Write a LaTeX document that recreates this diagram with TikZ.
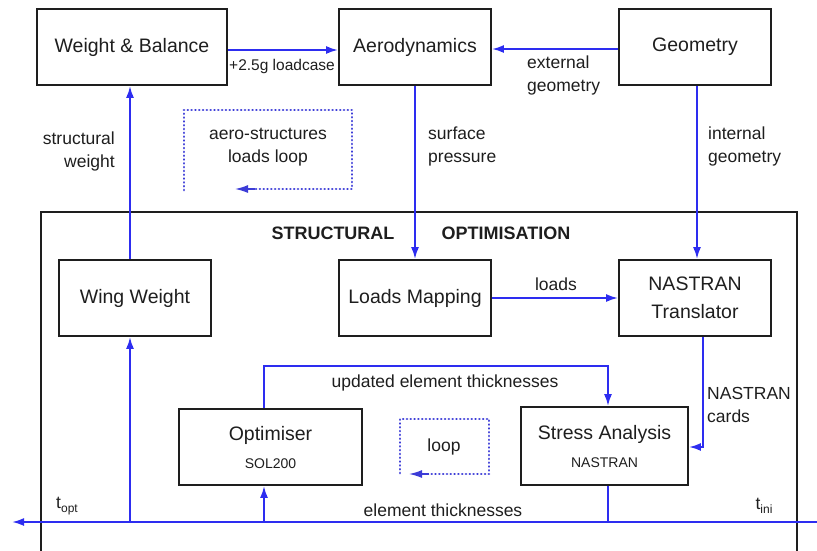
\documentclass[tikz,border=0pt]{standalone}
\usepackage{fontspec}
\setmainfont{Liberation Sans}
\usetikzlibrary{arrows.meta}
\definecolor{flow}{RGB}{45,45,240}
\definecolor{loopc}{RGB}{60,60,215}
\definecolor{ink}{RGB}{30,30,30}
\begin{document}
\begin{tikzpicture}[x=1pt,y=-1pt,
  box/.style={draw=ink, line width=1.8pt, minimum width=152pt, minimum height=76pt, inner sep=0pt,
    font=\fontsize{19.5}{28}\selectfont, text=ink, align=center},
  arr/.style={draw=flow, line width=2pt, -{Latex[length=12pt,width=8pt]}},
  flowline/.style={draw=flow, line width=2pt},
  lbl/.style={font=\fontsize{17.5}{23}\selectfont, text=ink, inner sep=0pt},
  dotloop/.style={draw=loopc, line width=2.8pt, line cap=round, dash pattern=on 0.01pt off 3.8pt},
  dottip/.style={draw=loopc, fill=loopc, line width=1.5pt, -{Latex[length=13pt,width=8pt]}},
  frame/.style={draw=ink, line width=1.8pt}
]
\useasboundingbox (0,0) rectangle (817,550);

% outer frame
\draw[frame] (41,560) -- (41,212) -- (797,212) -- (797,560);

% top boxes
\node[box, minimum width=190pt] (wb) at (132,47) {Weight \& Balance};
\node[box] (aero) at (415,47) {Aerodynamics};
\node[box] (geom) at (695,47) {Geometry};

% inner boxes
\node[box] (wing) at (135,298) {Wing Weight};
\node[box] (loads) at (415,298) {Loads Mapping};
\node[box] (nas) at (695,298) {NASTRAN\\Translator};
\node[box, minimum width=183pt] (opt) at (270.5,447) {Optimiser\\{\fontsize{14}{16}\selectfont SOL200}};
\node[box, minimum width=167pt, minimum height=78pt] (stress) at (604.5,446) {Stress Analysis\\{\fontsize{14}{16}\selectfont NASTRAN}};

% helper coordinates
\coordinate (wx) at (130,0);
\coordinate (u1) at (264,0);
\coordinate (u2) at (608,366);
\coordinate (cx) at (703,0);
\coordinate (rend) at (817,522);
\coordinate (lend) at (12,522);

% connectors
\draw[arr] ([yshift=-3pt]wb.east) -- ([yshift=-3pt]aero.west);
\draw[arr] ([yshift=-2pt]geom.west) -- ([yshift=-2pt]aero.east);
\draw[arr] (aero.south) -- (loads.north);
\draw[arr] ([xshift=2pt]geom.south) -- ([xshift=2pt]nas.north);
\draw[arr] (wing.north -| wx) -- (wb.south -| wx);
\draw[arr] (loads.east) -- (nas.west);
\draw[arr] (opt.north -| u1) |- (u2) -- (stress.north -| u2);
\draw[arr] (nas.south -| cx) |- ([yshift=-1pt]stress.east);
\draw[arr] (rend) -- (lend);
\draw[arr] (wx |- lend) -- (wing.south -| wx);
\draw[arr] (u1 |- lend) -- (opt.south -| u1);
\draw[flowline] (stress.south -| u2) -- (u2 |- lend);

% dotted loops
\coordinate (la) at (184,190);
\coordinate (lb) at (184,110);
\coordinate (lc) at (352,110);
\coordinate (ld) at (352,189);
\coordinate (lf) at (252,189);
\coordinate (le) at (235,189);
\draw[dotloop] (la) -- (lb) -- (lc) -- (ld) -- (lf);
\draw[dottip] ([xshift=3pt]lf) -- (le);
\node[lbl, align=center] (aeroloop) at (268,147) {aero-structures\\loads loop};

\coordinate (sa) at (400,473);
\coordinate (sb) at (400,419);
\coordinate (sc) at (489,419);
\coordinate (sd) at (489,474);
\coordinate (sf) at (426,474);
\coordinate (se) at (409,474);
\draw[dotloop] (sa) -- (sb) -- (sc) -- (sd) -- (sf);
\draw[dottip] ([xshift=3pt]sf) -- (se);
\node[lbl] (looplbl) at (444,447) {loop};

% labels
\node[lbl, font=\fontsize{15.5}{18}\selectfont] (lc25) at (282,66) {+2.5g loadcase};
\node[lbl, align=left, anchor=west] (extg) at (527,75) {external\\geometry};
\node[lbl, align=right, anchor=east] (sw) at (115,151) {structural\\weight};
\node[lbl, align=left, anchor=west] (sp) at (428,146) {surface\\pressure};
\node[lbl, align=left, anchor=west] (ig) at (708,146) {internal\\geometry};
\node[lbl, font=\bfseries\fontsize{18}{22}\selectfont] (st1) at (333,233) {STRUCTURAL};
\node[lbl, font=\bfseries\fontsize{18}{22}\selectfont] (st2) at (506,233) {OPTIMISATION};
\node[lbl] (loadslbl) at (556,284) {loads};
\node[lbl] (upd) at (445,383) {updated element thicknesses};
\node[lbl, align=left, anchor=west] (cards) at (707,405) {NASTRAN\\cards};
\node[lbl] (elt) at (443,510) {element thicknesses};
\node[lbl] (topt) at (67,506) {t\raisebox{-0.45ex}{\fontsize{12}{12}\selectfont opt}};
\node[lbl] (tini) at (764,506) {t\raisebox{-0.45ex}{\fontsize{12}{12}\selectfont ini}};
\end{tikzpicture}
\end{document}
